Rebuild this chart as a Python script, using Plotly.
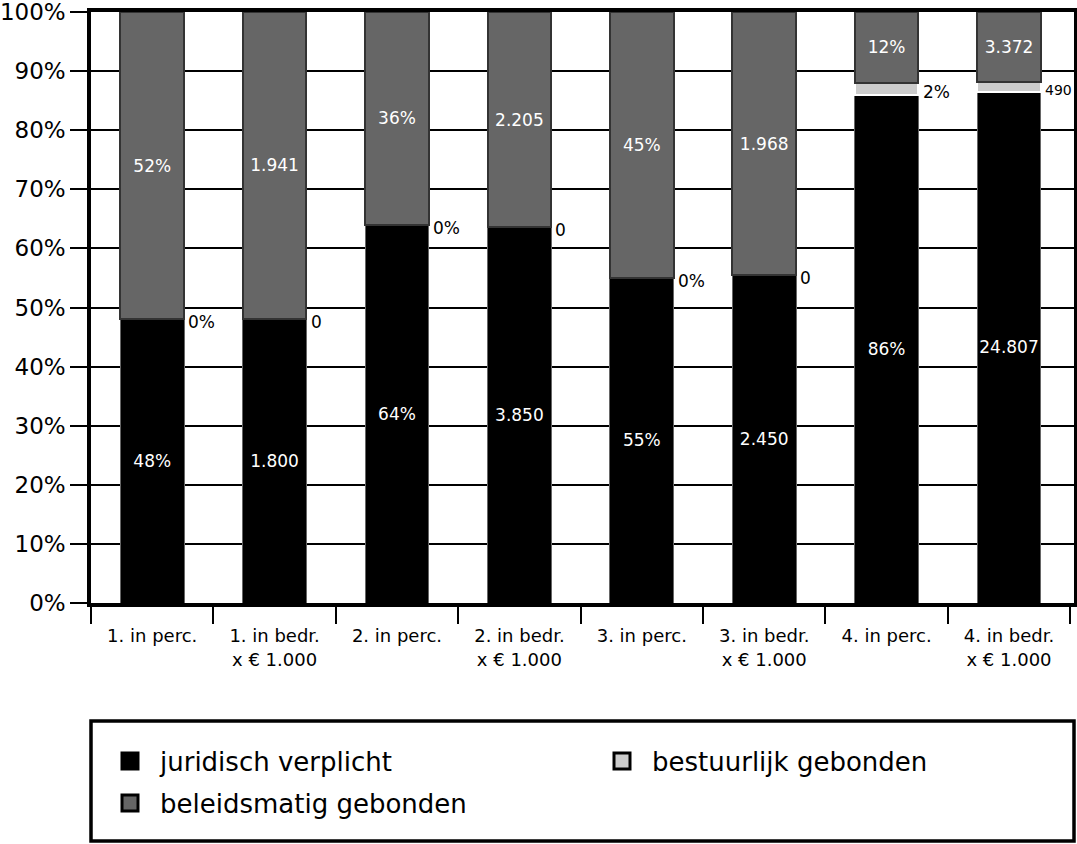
import plotly.graph_objects as go

categories = ["1. in perc.", "1. in bedr.<br>x € 1.000",
              "2. in perc.", "2. in bedr.<br>x € 1.000",
              "3. in perc.", "3. in bedr.<br>x € 1.000",
              "4. in perc.", "4. in bedr.<br>x € 1.000"]
juridisch = [48, 1800, 64, 3850, 55, 2450, 86, 24807]
bestuurlijk = [0, 0, 0, 0, 0, 0, 2, 490]
beleidsmatig = [52, 1941, 36, 2205, 45, 1968, 12, 3372]
y_ticks = [0, 10, 20, 30, 40, 50, 60, 70, 80, 90, 100]

is_pct = ["perc" in c for c in categories]

def fmt(v, pct):
    return f"{v}%" if pct else f"{v:,}".replace(",", ".")

FONT = "DejaVu Sans"
# plot area in pixels (for converting legend positions)
L, R, T, B, W, H = 91, 3, 12, 241, 1077, 844
PW, PH = W - L - R, H - T - B

def px(x):
    return (x - L) / PW

def py(y):
    return (T + PH - y) / PH

fig = go.Figure()

series = [
    ("juridisch verplicht", juridisch, "#000000", "#666666", 1, True),
    ("bestuurlijk gebonden", bestuurlijk, "#cccccc", "#ffffff", 2, False),
    ("beleidsmatig gebonden", beleidsmatig, "#666666", "#333333", 2, True),
]
for name, vals, col, lcol, lw, show_text in series:
    fig.add_trace(go.Bar(
        x=categories, y=vals, name=name,
        marker=dict(color=col, line=dict(color=lcol, width=lw)),
        text=[fmt(v, p) for v, p in zip(vals, is_pct)] if show_text else None,
        textposition="inside", insidetextanchor="middle",
        textangle=0, constraintext="none",
        textfont=dict(color="white", size=17, family=FONT),
        showlegend=False, width=0.52,
    ))

# outside labels for bestuurlijk gebonden
for c, j, b, g, p in zip(categories, juridisch, bestuurlijk, beleidsmatig, is_pct):
    tot = j + b + g
    ymid = (j + b / 2) / tot * 100
    t = fmt(b, p)
    fig.add_annotation(x=c, y=ymid, text=t, showarrow=False,
                       xanchor="left", yanchor="middle", xshift=34, yshift=-3,
                       font=dict(size=17 if len(t) <= 2 else 14, color="black", family=FONT))

# legend entries
legend_items = [
    ("juridisch verplicht", "#000000", "legend"),
    ("bestuurlijk gebonden", "#cccccc", "legend2"),
    ("beleidsmatig gebonden", "#666666", "legend3"),
]
for name, col, lg in legend_items:
    fig.add_trace(go.Scatter(
        x=[None], y=[None], mode="markers", name=name, legend=lg,
        marker=dict(symbol="square", size=16, color=col, line=dict(color="black", width=3)),
    ))

leg_common = dict(bgcolor="rgba(0,0,0,0)", borderwidth=0, itemwidth=50,
                  font=dict(size=26, color="black", family=FONT),
                  xanchor="left", yanchor="middle")

fig.update_layout(
    width=W, height=H,
    margin=dict(l=L, r=R, t=T, b=B, autoexpand=False),
    paper_bgcolor="white", plot_bgcolor="white",
    barmode="stack", barnorm="percent",
    font=dict(family=FONT, color="black"),
    showlegend=True,
    legend=dict(x=px(100), y=py(761), **leg_common),
    legend2=dict(x=px(592), y=py(761), **leg_common),
    legend3=dict(x=px(100), y=py(803), **leg_common),
    xaxis=dict(
        type="category", tickson="boundaries", ticks="outside", ticklen=17,
        tickwidth=2, tickcolor="black", showgrid=False,
        showline=True, linecolor="black", linewidth=3.5, mirror=True,
        ticklabelstandoff=14, automargin=False,
        tickfont=dict(size=18, family=FONT, color="black"),
    ),
    yaxis=dict(
        range=[0, 100], tickvals=y_ticks, ticktext=[f"{v}%" for v in y_ticks],
        ticks="outside", ticklen=17, tickwidth=2, tickcolor="black",
        showgrid=True, gridcolor="black", gridwidth=2,
        showline=True, linecolor="black", linewidth=3.5, mirror=True,
        zeroline=False, ticklabeloverflow="allow", automargin=False,
        tickfont=dict(size=23, family=FONT, color="black"),
    ),
    shapes=[dict(type="rect", xref="paper", yref="paper",
                 x0=0, x1=1, y0=py(721), y1=py(841),
                 line=dict(color="black", width=3.5), fillcolor="rgba(0,0,0,0)")],
)

fig.write_html("out.html")
